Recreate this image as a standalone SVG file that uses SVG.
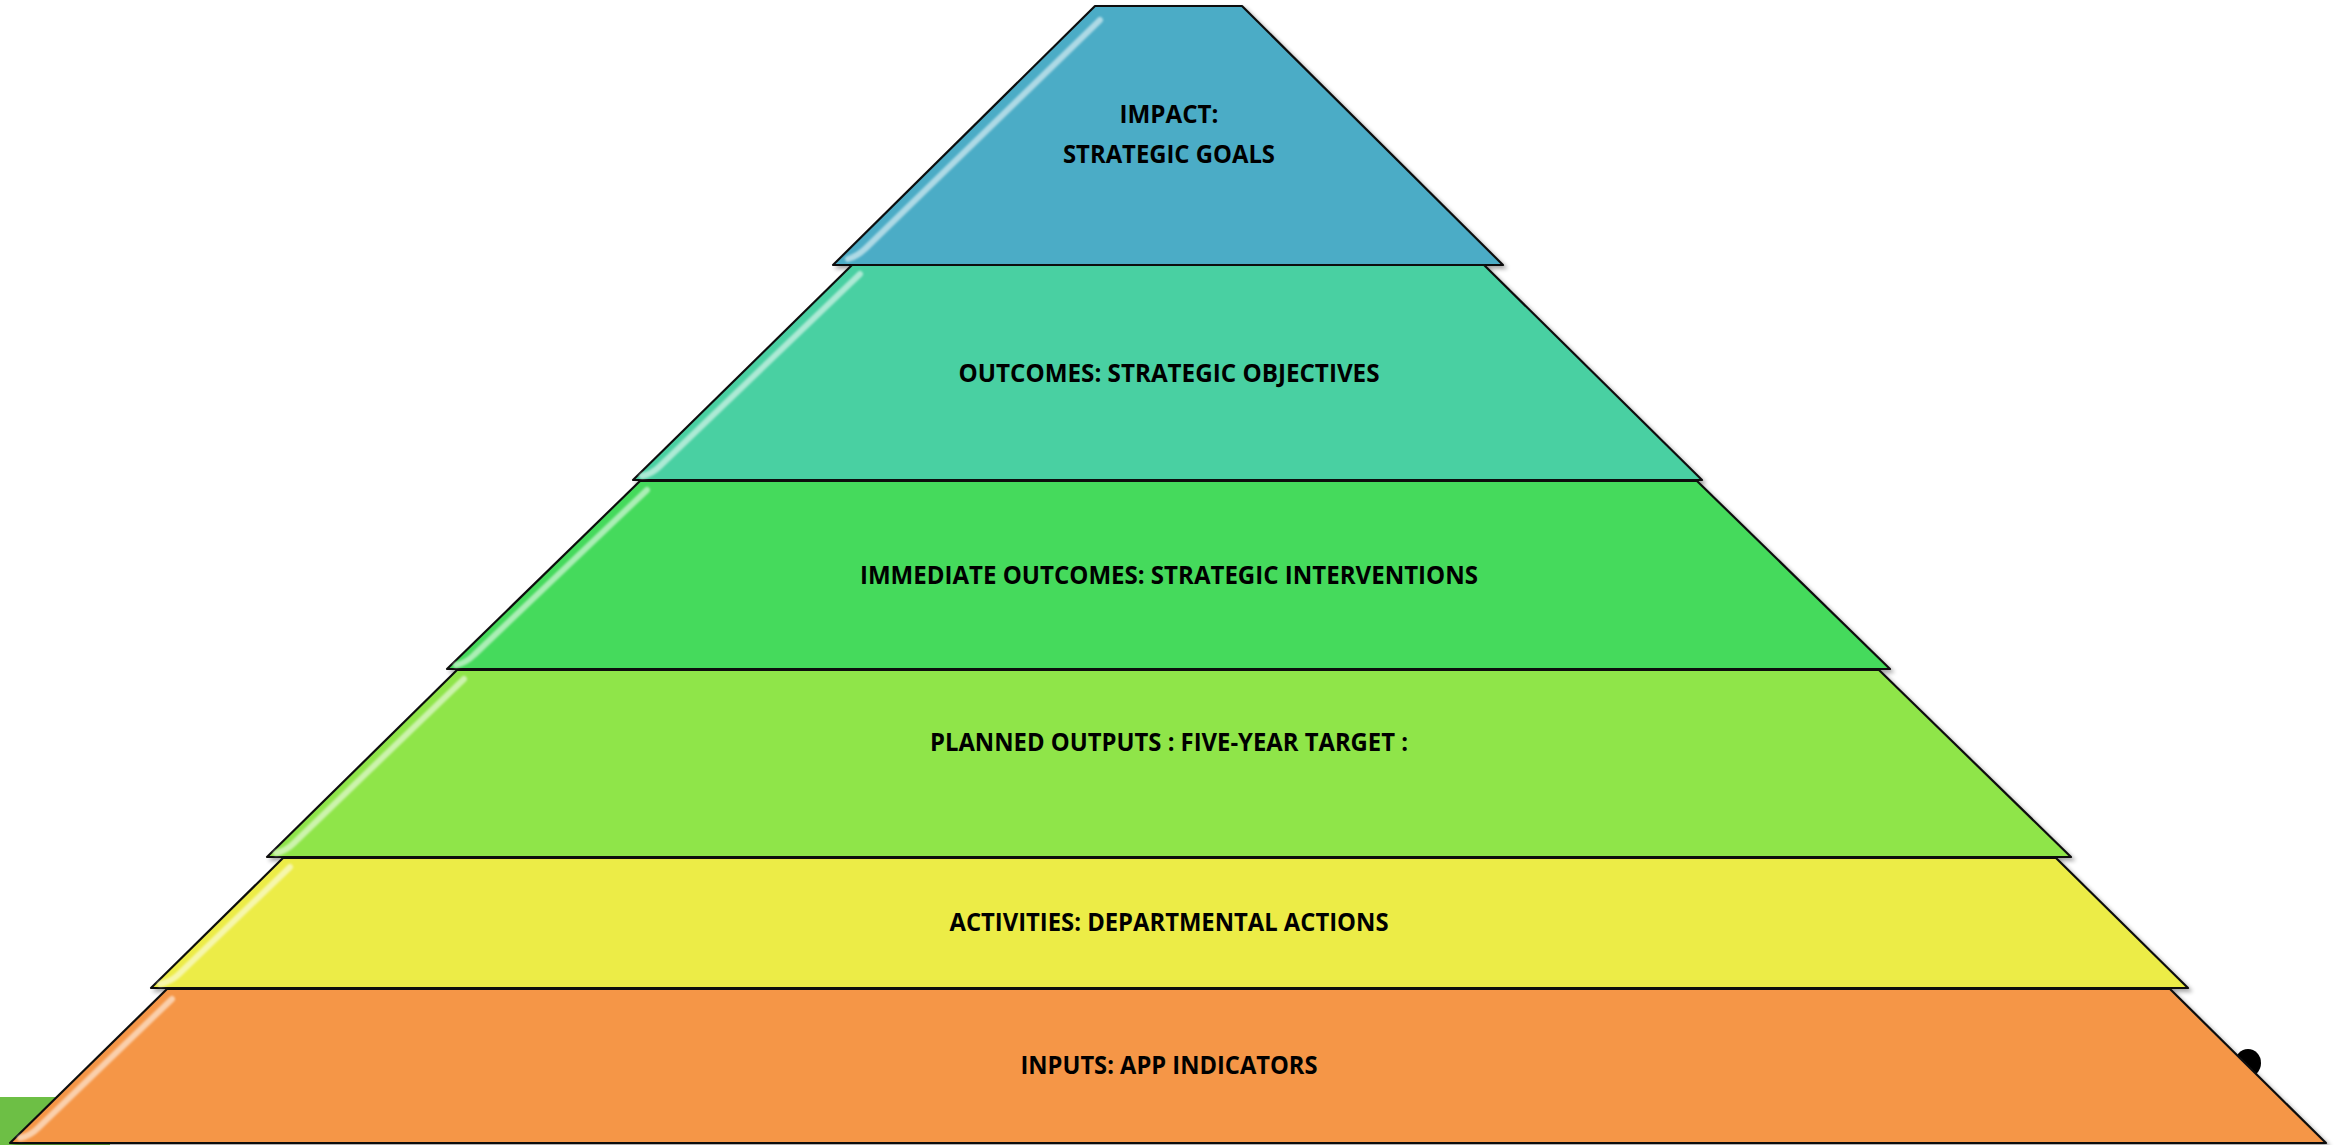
<svg xmlns="http://www.w3.org/2000/svg" width="2343" height="1145" viewBox="0 0 2343 1145">
  <defs>
    <filter id="shadow" x="-5%" y="-5%" width="110%" height="115%">
      <feGaussianBlur in="SourceAlpha" stdDeviation="2"/>
      <feOffset dx="3" dy="3" result="b"/>
      <feComponentTransfer><feFuncA type="linear" slope="0.35"/></feComponentTransfer>
      <feMerge><feMergeNode/><feMergeNode in="SourceGraphic"/></feMerge>
    </filter>
    <filter id="soft" x="-10%" y="-10%" width="120%" height="120%">
      <feGaussianBlur stdDeviation="1.2"/>
    </filter>
  </defs>
  <style>
    .tier { stroke: #111; stroke-width: 2.2; stroke-linejoin: round; filter: url(#shadow); }
    .gloss { fill: none; stroke: #ffffff; stroke-width: 6; stroke-linecap: round; stroke-opacity: 0.55; filter: url(#soft); }
    .lbl { font-family: "Open Sans", "Liberation Sans", sans-serif; font-weight: 700; font-size: 25px; fill: #000; text-anchor: middle; }
  </style>
  <rect width="2343" height="1145" fill="#ffffff"/>
  <!-- stray background artefacts -->
  <rect x="0" y="1097" width="110" height="48" fill="#6DBF45"/>
  <ellipse cx="2248" cy="1063" rx="13" ry="14" fill="#000"/>

  <g id="tier-impact">
    <polygon class="tier" fill="#4BACC6" points="1095,6 1242,6 1503,265 833,265"/>
    <path class="gloss" d="M1100,20 L866,248 Q858,256 848,259"/>
    <text class="lbl" x="1169" y="123" textLength="99" lengthAdjust="spacingAndGlyphs">IMPACT:</text>
    <text class="lbl" x="1169" y="163" textLength="212" lengthAdjust="spacingAndGlyphs">STRATEGIC GOALS</text>
  </g>
  <g id="tier-outcomes">
    <polygon class="tier" fill="#48D0A2" points="852,265 1484,265 1702,480 633,480"/>
    <path class="gloss" d="M860,274 L660,466 Q652,474 642,476"/>
    <text class="lbl" x="1169" y="382" textLength="421" lengthAdjust="spacingAndGlyphs">OUTCOMES: STRATEGIC OBJECTIVES</text>
  </g>
  <g id="tier-immediate">
    <polygon class="tier" fill="#45DA5B" points="640,481 1697,481 1890,669 447,669"/>
    <path class="gloss" d="M647,490 L474,655 Q466,663 456,665"/>
    <text class="lbl" x="1169" y="584" font-size="26" textLength="618" lengthAdjust="spacingAndGlyphs">IMMEDIATE OUTCOMES: STRATEGIC INTERVENTIONS</text>
  </g>
  <g id="tier-outputs">
    <polygon class="tier" fill="#8FE54A" points="457,670 1879,670 2071,857 267,857"/>
    <path class="gloss" d="M464,679 L294,843 Q286,851 276,853"/>
    <text class="lbl" x="1169" y="751" textLength="478" lengthAdjust="spacingAndGlyphs">PLANNED OUTPUTS : FIVE-YEAR TARGET :</text>
  </g>
  <g id="tier-activities">
    <polygon class="tier" fill="#ECEC47" points="283,858 2056,858 2188,988 151,988"/>
    <path class="gloss" d="M290,867 L178,975 Q170,982 160,984"/>
    <text class="lbl" x="1169" y="931" textLength="439" lengthAdjust="spacingAndGlyphs">ACTIVITIES: DEPARTMENTAL ACTIONS</text>
  </g>
  <g id="tier-inputs">
    <polygon class="tier" fill="#F59646" points="167,989 2170,989 2326,1143 10,1143"/>
    <path class="gloss" d="M172,999 L38,1128 Q30,1136 20,1138"/>
    <text class="lbl" x="1169" y="1074" textLength="297" lengthAdjust="spacingAndGlyphs">INPUTS: APP INDICATORS</text>
  </g>
  <g id="connectors"/>
</svg>
